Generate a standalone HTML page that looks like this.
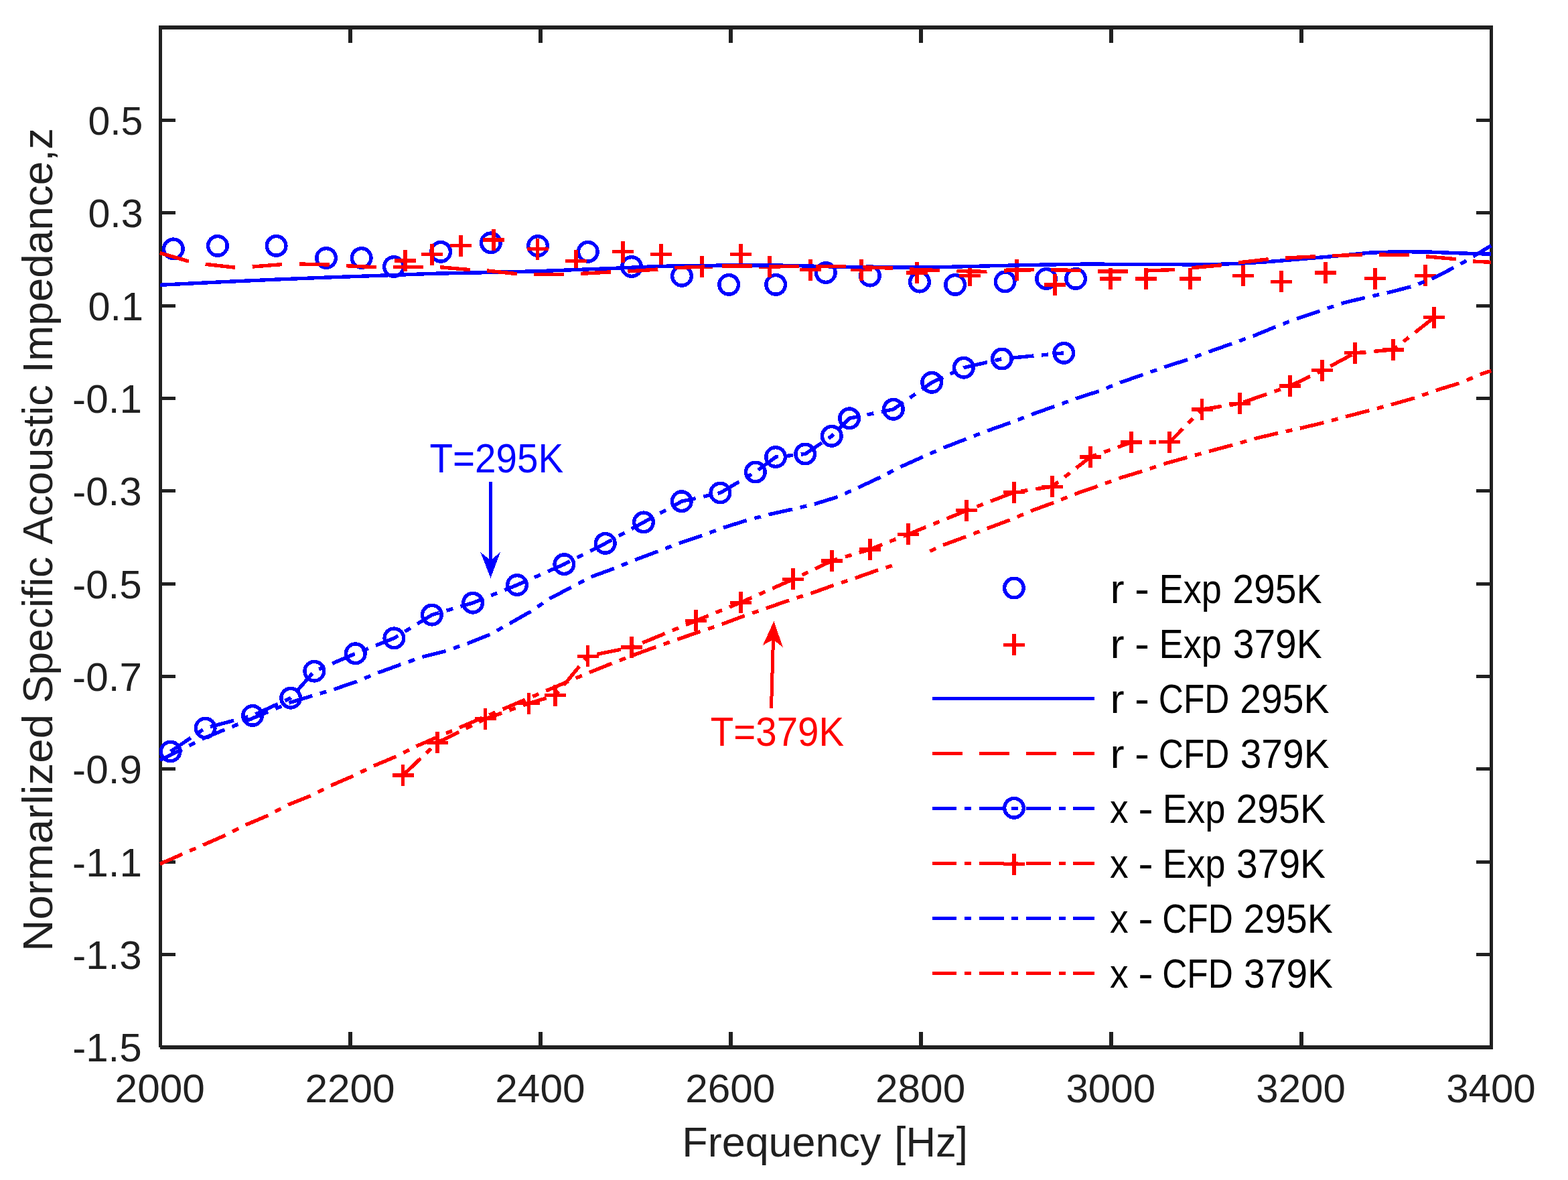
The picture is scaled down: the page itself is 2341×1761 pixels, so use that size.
<!DOCTYPE html>
<html lang="en"><head><meta charset="utf-8"><title>Normalized Specific Acoustic Impedance vs Frequency</title>
<style>html,body{margin:0;padding:0;background:#fff}body{width:2341px;height:1761px;overflow:hidden}svg{display:block}text{font-family:"Liberation Sans", sans-serif}</style></head><body>
<svg width="2341" height="1761" viewBox="0 0 2341 1761" role="img" aria-label="Normalized specific acoustic impedance versus frequency">
<rect width="2341" height="1761" fill="#fff"/>
<defs><clipPath id="plot"><rect x="237" y="38" width="1990.7" height="1528"/></clipPath></defs>
<g fill="#202020" shape-rendering="crispEdges">
<rect x="237" y="38" width="5" height="1525"/><rect x="2224" y="38" width="5" height="1528"/>
<rect x="237" y="38" width="1992" height="6"/><rect x="239" y="1560" width="1990" height="6"/>
<rect x="520" y="1540" width="6" height="20"/><rect x="520" y="44" width="6" height="20"/>
<rect x="804" y="1540" width="6" height="20"/><rect x="804" y="44" width="6" height="20"/>
<rect x="1088" y="1540" width="6" height="20"/><rect x="1088" y="44" width="6" height="20"/>
<rect x="1372" y="1540" width="6" height="20"/><rect x="1372" y="44" width="6" height="20"/>
<rect x="1656" y="1540" width="6" height="20"/><rect x="1656" y="44" width="6" height="20"/>
<rect x="1940" y="1540" width="6" height="20"/><rect x="1940" y="44" width="6" height="20"/>
<rect x="242" y="177" width="20" height="5"/><rect x="2204" y="177" width="20" height="5"/>
<rect x="242" y="315" width="20" height="5"/><rect x="2204" y="315" width="20" height="5"/>
<rect x="242" y="454" width="20" height="5"/><rect x="2204" y="454" width="20" height="5"/>
<rect x="242" y="592" width="20" height="5"/><rect x="2204" y="592" width="20" height="5"/>
<rect x="242" y="730" width="20" height="5"/><rect x="2204" y="730" width="20" height="5"/>
<rect x="242" y="869" width="20" height="5"/><rect x="2204" y="869" width="20" height="5"/>
<rect x="242" y="1007" width="20" height="5"/><rect x="2204" y="1007" width="20" height="5"/>
<rect x="242" y="1145" width="20" height="5"/><rect x="2204" y="1145" width="20" height="5"/>
<rect x="242" y="1284" width="20" height="5"/><rect x="2204" y="1284" width="20" height="5"/>
<rect x="242" y="1422" width="20" height="5"/><rect x="2204" y="1422" width="20" height="5"/>
</g>
<g clip-path="url(#plot)" fill="none" stroke-width="5.4" shape-rendering="crispEdges">
<g stroke="#0000ff"><circle cx="258.9" cy="371.4" r="14.3"/><circle cx="324.9" cy="366.9" r="14.3"/><circle cx="412.6" cy="366.9" r="14.3"/><circle cx="487.1" cy="385" r="14.3"/><circle cx="539.7" cy="385" r="14.3"/><circle cx="587.9" cy="398" r="14.3"/><circle cx="658.1" cy="375.8" r="14.3"/><circle cx="732.9" cy="362.3" r="14.3"/><circle cx="803" cy="367" r="14.3"/><circle cx="877.8" cy="375.8" r="14.3"/><circle cx="943.1" cy="398" r="14.3"/><circle cx="1018" cy="411.8" r="14.3"/><circle cx="1088.2" cy="424.9" r="14.3"/><circle cx="1158.2" cy="424.9" r="14.3"/><circle cx="1232.8" cy="407" r="14.3"/><circle cx="1298.8" cy="411.6" r="14.3"/><circle cx="1373" cy="420.6" r="14.3"/><circle cx="1426.1" cy="424.9" r="14.3"/><circle cx="1500.6" cy="420.4" r="14.3"/><circle cx="1562.1" cy="415.9" r="14.3"/><circle cx="1606.1" cy="415.9" r="14.3"/></g>
<g stroke="#ff0000"><path stroke-width="5.2" d="M589.2 389h32M629.2 379.7h32M672.4 366.8h32M721.4 358h32M786.5 371.5h32M844.2 389.2h32M914 375.6h32M970.8 379.7h32M1032.2 398h32M1089.6 379.7h32M1133.2 398h32M1194.4 402.7h32M1269.9 402.7h32M1352.9 407h32M1432 411.2h32M1502.4 402.7h32M1559.2 424.9h32M1642.1 415.9h32M1695.2 415.9h32M1760.8 415.9h32M1839.8 411.3h32M1896.9 420.1h32M1962.9 407h32M2037 415.6h32M2111.6 411.1h32"/><path stroke-width="5.9" d="M605.2 373v32M645.2 363.7v32M688.4 350.8v32M737.4 342v32M802.5 355.5v32M860.2 373.2v32M930 359.6v32M986.8 363.7v32M1048.2 382v32M1105.6 363.7v32M1149.2 382v32M1210.4 386.7v32M1285.9 386.7v32M1368.9 391v32M1448 395.2v32M1518.4 386.7v32M1575.2 408.9v32M1658.1 399.9v32M1711.2 399.9v32M1776.8 399.9v32M1855.8 395.3v32M1912.9 404.1v32M1978.9 391v32M2053 399.6v32M2127.6 395.1v32"/></g>
<path stroke="#0000ff" stroke-linejoin="round" d="M238.9 425.3 L330 420.8 L418.9 416.8 L500 413.6 L560 411.5 L646.8 408.3 L733.6 406.5 L800 404.8 L908.5 400.7 L984.4 397.4 L1040 396.4 L1100 396 L1160 396 L1215 397.2 L1268.5 398.7 L1340 399.1 L1400 398.7 L1470 397 L1540 395.4 L1620 394.1 L1700 394.4 L1781 394.9 L1812 394.6 L1835.6 393.8 L1862 392.6 L1889.9 390.9 L1944 386.5 L1998.4 381.8 L2044.4 377.2 L2089.6 375.6 L2134.9 376.1 L2180 377.9 L2226.4 379.2"/>
<path stroke="#ff0000" stroke-dasharray="45 25.21" stroke-linejoin="round" d="M238.6 377.5 L281.5 389.9 L307 394.4 L350 399.1 L377 398 L421 394.6 L447 394 L491 395 L517 396.7 L561 398.7 L587 398.7 L632 398.7 L657 398.7 L702 402.7 L727 403.9 L772 408.8 L797 409.5 L842 409.5 L867 408.4 L912 405.9 L937 405 L982 402 L1007 399.8 L1052 398 L1078 397.1 L1123 397.1 L1148 397.5 L1263 397.5 L1288 398.7 L1333 400.2 L1358 402 L1403 403.6 L1428 404.5 L1473 405.4 L1499 403.9 L1543 402.7 L1569 402.7 L1614 403.6 L1639 405 L1684 405 L1709 404 L1754 402.5 L1779 399.8 L1824 395.7 L1849 391.9 L1894 386.8 L1919 385.1 L1964 382.8 L1989 381.7 L2034 380.1 L2059 380.1 L2104 380.6 L2129 382.8 L2174 386.7 L2199 390 L2226.4 391.4"/>
<path stroke="#0000ff" stroke-dasharray="36.5 11.9 9.9 11.9" d="M254.6 1121.5 L306.6 1086.5 L377.1 1067.9 L434.1 1041.7 L469.3 1001.7 L530.8 975.3 L588.4 952.4 L644.9 917.6 L706 899.7 L772 873 L842.3 842.1 L903.8 810.9 L961 779.4 L1017.8 748.2 L1075.4 735.5 L1127.9 704.5 L1158.1 682 L1202.2 677.5 L1241.8 650.8 L1268.1 624.3 L1333.9 610.8 L1391.2 570.8 L1438.9 548.7 L1496 535.5 L1588.3 526.8"/>
<g stroke="#0000ff"><circle cx="254.6" cy="1121.5" r="14.3"/><circle cx="306.6" cy="1086.5" r="14.3"/><circle cx="377.1" cy="1067.9" r="14.3"/><circle cx="434.1" cy="1041.7" r="14.3"/><circle cx="469.3" cy="1001.7" r="14.3"/><circle cx="530.8" cy="975.3" r="14.3"/><circle cx="588.4" cy="952.4" r="14.3"/><circle cx="644.9" cy="917.6" r="14.3"/><circle cx="706" cy="899.7" r="14.3"/><circle cx="772" cy="873" r="14.3"/><circle cx="842.3" cy="842.1" r="14.3"/><circle cx="903.8" cy="810.9" r="14.3"/><circle cx="961" cy="779.4" r="14.3"/><circle cx="1017.8" cy="748.2" r="14.3"/><circle cx="1075.4" cy="735.5" r="14.3"/><circle cx="1127.9" cy="704.5" r="14.3"/><circle cx="1158.1" cy="682" r="14.3"/><circle cx="1202.2" cy="677.5" r="14.3"/><circle cx="1241.8" cy="650.8" r="14.3"/><circle cx="1268.1" cy="624.3" r="14.3"/><circle cx="1333.9" cy="610.8" r="14.3"/><circle cx="1391.2" cy="570.8" r="14.3"/><circle cx="1438.9" cy="548.7" r="14.3"/><circle cx="1496" cy="535.5" r="14.3"/><circle cx="1588.3" cy="526.8" r="14.3"/></g>
<path stroke="#ff0000" stroke-dasharray="36.5 11.9 9.9 11.9" d="M601.5 1157 L653.3 1108.1 L724.5 1072.8 L789.5 1049.8 L829.3 1037.6 L877.5 979.2 L943.3 965.9 L1039.4 926.2 L1105.6 899.3 L1184.4 864.4 L1241.8 837 L1298.9 819.9 L1356 797.3 L1443.3 761.8 L1514.1 734.6 L1571 726.2 L1628 682 L1689.3 660 L1746.3 659.7 L1794.5 611 L1851.2 602.1 L1926.3 575.9 L1974.4 552.8 L2023 526.8 L2079.9 521.9 L2141.2 473.7"/>
<g stroke="#ff0000"><path stroke-width="5.2" d="M585.5 1157h32M637.3 1108.1h32M708.5 1072.8h32M773.5 1049.8h32M813.3 1037.6h32M861.5 979.2h32M927.3 965.9h32M1023.4 926.2h32M1089.6 899.3h32M1168.4 864.4h32M1225.8 837h32M1282.9 819.9h32M1340 797.3h32M1427.3 761.8h32M1498.1 734.6h32M1555 726.2h32M1612 682h32M1673.3 660h32M1730.3 659.7h32M1778.5 611h32M1835.2 602.1h32M1910.3 575.9h32M1958.4 552.8h32M2007 526.8h32M2063.9 521.9h32M2125.2 473.7h32"/><path stroke-width="5.9" d="M601.5 1141v32M653.3 1092.1v32M724.5 1056.8v32M789.5 1033.8v32M829.3 1021.6v32M877.5 963.2v32M943.3 949.9v32M1039.4 910.2v32M1105.6 883.3v32M1184.4 848.4v32M1241.8 821v32M1298.9 803.9v32M1356 781.3v32M1443.3 745.8v32M1514.1 718.6v32M1571 710.2v32M1628 666v32M1689.3 644v32M1746.3 643.7v32M1794.5 595v32M1851.2 586.1v32M1926.3 559.9v32M1974.4 536.8v32M2023 510.8v32M2079.9 505.9v32M2141.2 457.7v32"/></g>
<path stroke="#0000ff" stroke-dasharray="36.5 11.9 9.9 11.9" stroke-linejoin="round" d="M238.9 1134.3 L306 1101 L377 1072 L434.1 1048.1 L498.5 1028.8 L532.4 1017.1 L564.3 1004 L597.5 992 L631 980.2 L664.9 971.7 L698.1 960.3 L730.9 947.2 L761.4 930.2 L792.3 912.6 L821.3 892.9 L852.9 876.6 L883.4 860.6 L917.3 848.2 L949 835.3 L982.2 822.8 L1015 810.4 L1048.4 799.1 L1081.2 787.1 L1115.1 776.5 L1148.5 767.7 L1183.4 759.9 L1216.9 752 L1251.2 741.4 L1282.4 727.2 L1315.2 711.8 L1345.7 696.2 L1378.5 681.5 L1410.1 667.7 L1443.3 654.8 L1475.7 642.4 L1509.6 630.4 L1541.7 618 L1575.1 606.2 L1607.6 594.4 L1641.4 583.5 L1673.6 570.5 L1707.4 558.8 L1739.9 547.4 L1774.3 536.2 L1806.5 524.4 L1840.7 512.3 L1873.2 500.6 L1906.6 486.8 L1938.2 474.8 L1972.1 463.5 L2004.9 452.2 L2039.5 443.9 L2072.7 436.6 L2107.7 427.6 L2139.8 415.2 L2172.8 398.2 L2187 390.3 L2203.8 380.1 L2226.4 366.5"/>
<path stroke="#ff0000" stroke-dasharray="36.5 11.9 9.9 11.9" stroke-linejoin="round" d="M238.9 1289.3 L301.8 1261.7 L335.3 1247 L366.9 1231.1 L398.6 1217.6 L430.2 1201.1 L462.3 1188.2 L494 1172.4 L526.3 1158.4 L557.5 1143.2 L590.7 1129.2 L621.6 1113.6 L687.9 1085 L880 1003.5 L912.8 990.3 L945.6 977.7 L979.5 965.3 L1011.8 954 L1045 942.7 L1078.3 931.4 L1111.7 918.9 L1144.5 907.6 L1180 895.2 L1212.4 885 L1245.8 873 L1277.7 862.4 L1311.8 850.4 L1343 840.8 L1378 827.3 L1409 813.1 L1442.9 800.6 L1475 788.2 L1508.4 775.8 L1540.1 762.2 L1574 749.8 L1605.4 737.1 L1639.8 725.2 L1671.8 713.4 L1706.5 702.9 L1738.7 692 L1773.7 682.3 L1806.8 673.1 L1841.7 663.7 L1874.6 654.3 L1909 646.2 L1942.6 638.8 L1977.8 630.4 L2011 621.3 L2045.6 612.3 L2079.5 603.2 L2113.4 593.5 L2146.2 581.8 L2180.1 571.6 L2212.8 557.6 L2226.4 553.5"/>
</g>
<rect x="1338" y="824.5" width="672" height="670" fill="#fff"/>
<g fill="none" stroke-width="5.4" shape-rendering="crispEdges">
<g stroke="#0000ff"><circle cx="1514" cy="877.5" r="14.3"/></g>
<g stroke="#ff0000"><path stroke-width="5.2" d="M1498 962.1h32"/><path stroke-width="5.9" d="M1514 946.1v32"/></g>
<path stroke="#0000ff" d="M1391.8 1042.6H1634.1"/>
<path stroke="#ff0000" stroke-dasharray="45 25.21" d="M1391.8 1124.6H1634.1"/>
<path stroke="#0000ff" stroke-dasharray="36.5 11.9 9.9 11.9" d="M1391.8 1206.5H1634.1"/>
<g stroke="#0000ff"><circle cx="1514" cy="1205.8" r="14.3"/></g>
<path stroke="#ff0000" stroke-dasharray="36.5 11.9 9.9 11.9" d="M1391.8 1288.5H1634.1"/>
<g stroke="#ff0000"><path stroke-width="5.2" d="M1498 1289.8h32"/><path stroke-width="5.9" d="M1514 1273.8v32"/></g>
<path stroke="#0000ff" stroke-dasharray="36.5 11.9 9.9 11.9" d="M1391.8 1370.4H1634.1"/>
<path stroke="#ff0000" stroke-dasharray="36.5 11.9 9.9 11.9" d="M1391.8 1452.3H1634.1"/>
</g>
<g font-size="61" fill="#000">
<text y="899.7" xml:space="preserve"><tspan x="1657.48" textLength="21.13" lengthAdjust="spacingAndGlyphs">r</tspan> <tspan x="1694.02" textLength="22.03" lengthAdjust="spacingAndGlyphs">-</tspan> <tspan x="1730.57" textLength="93.27" lengthAdjust="spacingAndGlyphs">Exp</tspan> <tspan x="1840.14" textLength="133.54" lengthAdjust="spacingAndGlyphs">295K</tspan></text>
<text y="981.7" xml:space="preserve"><tspan x="1657.48" textLength="21.13" lengthAdjust="spacingAndGlyphs">r</tspan> <tspan x="1694.02" textLength="22.03" lengthAdjust="spacingAndGlyphs">-</tspan> <tspan x="1730.57" textLength="93.27" lengthAdjust="spacingAndGlyphs">Exp</tspan> <tspan x="1840.72" textLength="132.96" lengthAdjust="spacingAndGlyphs">379K</tspan></text>
<text y="1063.8" xml:space="preserve"><tspan x="1657.48" textLength="21.13" lengthAdjust="spacingAndGlyphs">r</tspan> <tspan x="1694.02" textLength="22.03" lengthAdjust="spacingAndGlyphs">-</tspan> <tspan x="1729.83" textLength="105.66" lengthAdjust="spacingAndGlyphs">CFD</tspan> <tspan x="1851.14" textLength="133.44" lengthAdjust="spacingAndGlyphs">295K</tspan></text>
<text y="1145.8" xml:space="preserve"><tspan x="1657.48" textLength="21.13" lengthAdjust="spacingAndGlyphs">r</tspan> <tspan x="1694.02" textLength="22.03" lengthAdjust="spacingAndGlyphs">-</tspan> <tspan x="1729.83" textLength="105.66" lengthAdjust="spacingAndGlyphs">CFD</tspan> <tspan x="1851.72" textLength="132.86" lengthAdjust="spacingAndGlyphs">379K</tspan></text>
<text y="1227.9" xml:space="preserve"><tspan x="1657.07" textLength="27.66" lengthAdjust="spacingAndGlyphs">x</tspan> <tspan x="1699.25" textLength="22.57" lengthAdjust="spacingAndGlyphs">-</tspan> <tspan x="1735.74" textLength="93.81" lengthAdjust="spacingAndGlyphs">Exp</tspan> <tspan x="1845.44" textLength="133.65" lengthAdjust="spacingAndGlyphs">295K</tspan></text>
<text y="1309.9" xml:space="preserve"><tspan x="1657.07" textLength="27.66" lengthAdjust="spacingAndGlyphs">x</tspan> <tspan x="1699.25" textLength="22.57" lengthAdjust="spacingAndGlyphs">-</tspan> <tspan x="1735.74" textLength="93.81" lengthAdjust="spacingAndGlyphs">Exp</tspan> <tspan x="1846.02" textLength="133.06" lengthAdjust="spacingAndGlyphs">379K</tspan></text>
<text y="1391.9" xml:space="preserve"><tspan x="1657.07" textLength="27.66" lengthAdjust="spacingAndGlyphs">x</tspan> <tspan x="1699.25" textLength="22.57" lengthAdjust="spacingAndGlyphs">-</tspan> <tspan x="1735.13" textLength="105.66" lengthAdjust="spacingAndGlyphs">CFD</tspan> <tspan x="1856.54" textLength="133.44" lengthAdjust="spacingAndGlyphs">295K</tspan></text>
<text y="1474" xml:space="preserve"><tspan x="1657.07" textLength="27.66" lengthAdjust="spacingAndGlyphs">x</tspan> <tspan x="1699.25" textLength="22.57" lengthAdjust="spacingAndGlyphs">-</tspan> <tspan x="1735.13" textLength="105.66" lengthAdjust="spacingAndGlyphs">CFD</tspan> <tspan x="1857.12" textLength="132.86" lengthAdjust="spacingAndGlyphs">379K</tspan></text>
</g>
<g font-size="61">
<text y="704.8" fill="#0000ff"><tspan x="641.38" textLength="199.88" lengthAdjust="spacingAndGlyphs">T=295K</tspan></text>
<text y="1112.7" fill="#ff0000"><tspan x="1060.79" textLength="199.38" lengthAdjust="spacingAndGlyphs">T=379K</tspan></text>
</g>
<g shape-rendering="crispEdges">
<path d="M732.5 719.1V840" stroke="#0000ff" stroke-width="5" fill="none"/>
<path d="M732.5 862.8L717.3 824.1L732.5 836L746.9 824.1Z" fill="#0000ff"/>
<path d="M1151.5 1056.7L1154.6 950" stroke="#ff0000" stroke-width="5" fill="none"/>
<path d="M1155.4 927L1138.8 963.1L1154.2 954.5L1168.9 966.1Z" fill="#ff0000"/>
</g>
<g font-size="60" fill="#202020">
<text y="1645.3"><tspan x="171.58" textLength="134.21" lengthAdjust="spacingAndGlyphs">2000</tspan></text>
<text y="1645.3"><tspan x="455.44" textLength="134.21" lengthAdjust="spacingAndGlyphs">2200</tspan></text>
<text y="1645.3"><tspan x="739.3" textLength="134.21" lengthAdjust="spacingAndGlyphs">2400</tspan></text>
<text y="1645.3"><tspan x="1023.16" textLength="134.21" lengthAdjust="spacingAndGlyphs">2600</tspan></text>
<text y="1645.3"><tspan x="1307.01" textLength="134.21" lengthAdjust="spacingAndGlyphs">2800</tspan></text>
<text y="1645.3"><tspan x="1591.48" textLength="133.59" lengthAdjust="spacingAndGlyphs">3000</tspan></text>
<text y="1645.3"><tspan x="1875.34" textLength="133.59" lengthAdjust="spacingAndGlyphs">3200</tspan></text>
<text y="1645.3"><tspan x="2159.2" textLength="133.59" lengthAdjust="spacingAndGlyphs">3400</tspan></text>
<text y="201"><tspan x="131.44" textLength="81.92" lengthAdjust="spacingAndGlyphs">0.5</tspan></text>
<text y="339.4"><tspan x="131.43" textLength="82.24" lengthAdjust="spacingAndGlyphs">0.3</tspan></text>
<text y="477.7"><tspan x="131.42" textLength="82.55" lengthAdjust="spacingAndGlyphs">0.1</tspan></text>
<text y="616"><tspan x="108.14" textLength="103.87" lengthAdjust="spacingAndGlyphs">-0.1</tspan></text>
<text y="754.4"><tspan x="108.15" textLength="103.55" lengthAdjust="spacingAndGlyphs">-0.3</tspan></text>
<text y="892.7"><tspan x="108.15" textLength="103.55" lengthAdjust="spacingAndGlyphs">-0.5</tspan></text>
<text y="1031.1"><tspan x="108.14" textLength="103.87" lengthAdjust="spacingAndGlyphs">-0.7</tspan></text>
<text y="1169.4"><tspan x="108.14" textLength="103.87" lengthAdjust="spacingAndGlyphs">-0.9</tspan></text>
<text y="1307.7"><tspan x="108.14" textLength="103.87" lengthAdjust="spacingAndGlyphs">-1.1</tspan></text>
<text y="1446.1"><tspan x="108.15" textLength="103.55" lengthAdjust="spacingAndGlyphs">-1.3</tspan></text>
<text y="1584.4"><tspan x="108.15" textLength="103.55" lengthAdjust="spacingAndGlyphs">-1.5</tspan></text>
</g>
<g font-size="63" fill="#202020">
<text y="1725.8" xml:space="preserve"><tspan x="1018.37" textLength="297.02" lengthAdjust="spacingAndGlyphs">Frequency</tspan> <tspan x="1335.28" textLength="109.72" lengthAdjust="spacingAndGlyphs">[Hz]</tspan></text>
<text transform="translate(78.3 1414.7) rotate(-90)" xml:space="preserve"><tspan x="-5.26" textLength="354.34" lengthAdjust="spacingAndGlyphs">Normarlized</tspan> <tspan x="365.49" textLength="218.46" lengthAdjust="spacingAndGlyphs">Specific</tspan> <tspan x="602.18" textLength="238.37" lengthAdjust="spacingAndGlyphs">Acoustic</tspan> <tspan x="857.95" textLength="365.68" lengthAdjust="spacingAndGlyphs">Impedance,z</tspan></text>
</g>
</svg></body></html>
